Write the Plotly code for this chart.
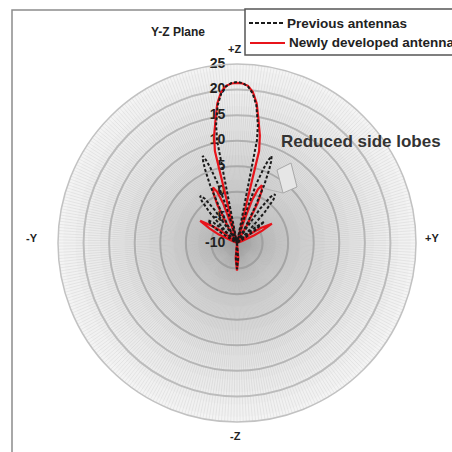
import numpy as np
import plotly.graph_objects as go

W = H = 452

# ---- data (angle in degrees, gain in dB) ----
new_theta = [-190, -185, -180, -175, -170,
             -69, -67, -65, -62, -59, -56, -53, -51, -49,
             -30.3, -29.3, -27.3, -25.3, -23.3, -21.3, -19.3, -17.3, -16.3,
             -15, -13.5, -12, -10, -8, -6, -4, -2, 0, 2, 4, 6, 8, 10, 12, 13.5, 15,
             16.3, 17.3, 19.3, 21.3, 23.3, 25.3, 27.3, 29.3, 30.3,
             51, 54, 56, 58, 61, 64, 66, 68, 71,
             170]
new_r = [-10, -7, -4.6, -7, -10,
         -10, -8.9, -6, -3.9, -1.6, -3.9, -6, -8.9, -10,
         -10, -6.7, -1.7, 0.8, 1.8, 0.8, -1.7, -6.7, -10,
         -10, 8.5, 11.5, 14.3, 17.6, 19.7, 20.8, 21.2, 21.3, 21.2, 20.8, 19.7, 17.6, 14.3, 11.5, 8.5, -10,
         -10, -6.2, -1.2, 1.3, 2.3, 1.3, -1.2, -6.2, -10,
         -10, -8.9, -6.3, -4.5, -2.2, -4.5, -6.3, -8.9, -10,
         -10]

old_theta = [-188, -184, -180, -176, -172,
             -60, -59, -57, -55, -52, -49, -47, -45, -44.5,
             -44.5, -44, -42, -40, -38, -36, -34, -32, -31.5,
             -28.5, -27.5, -26.5, -25, -23.5, -22.5, -21.5, -20.5, -19.5, -18, -16.5, -15.5, -14.5,
             -12.5, -11, -10, -8, -6, -4, -2, 0, 2, 4, 6, 8, 10, 11, 12.5,
             14.7, 15.7, 16.7, 18.2, 19.7, 20.7, 21.7, 22.7, 23.7, 25.2, 26.7, 27.7, 28.7,
             31.5, 32, 34, 36, 38, 40, 42, 44, 44.5,
             45, 47, 49, 52, 55, 57, 59, 60,
             172]
old_r = [-10, -7, -4.9, -7, -10,
         -10, -8.7, -5.8, -3.9, -2.8, -3.9, -5.8, -8.7, -10,
         -10, -7.3, -2.3, 0.7, 1.7, 0.7, -2.3, -7.3, -10,
         -10, -6, -2.5, 2.4, 5.6, 7.3, 8.3, 7.3, 5.6, 2.4, -2.5, -6, -10,
         -10, 10.5, 13.5, 17.2, 19.4, 20.7, 21.3, 21.5, 21.3, 20.7, 19.4, 17.2, 13.5, 10.5, -10,
         -10, -6, -2.5, 2.4, 5.6, 7.3, 8.3, 7.3, 5.6, 2.4, -2.5, -6, -10,
         -10, -6.9, -1.9, 1.1, 2.1, 1.1, -1.9, -6.9, -10,
         -10, -8.7, -5.8, -3.2, -5.8, -8, -9.5, -10,
         -10]

radial_ticks = [-10, -5, 0, 5, 10, 15, 20, 25]
radial_labels = ["-10", "-5", "0", "5", "10", "15", "20", "25"]
series_names = ["Previous antennas", "Newly developed antenna"]

# ---- helpers for pixel -> paper ----
def px(x):
    return x / W

def py(y):
    return 1 - y / H

cx, cy, R = 237, 243, 179

fig = go.Figure()

# background radial shading (decoration)
ring_t = np.linspace(0, 360, 181)
for rr in np.arange(24, -9, -2.4):
    fig.add_trace(go.Scatterpolar(
        r=[rr] * len(ring_t), theta=ring_t, mode="lines", fill="toself",
        fillcolor="rgba(0,0,0,0.0105)", line=dict(width=0),
        hoverinfo="skip", showlegend=False))

# radial tick labels (placed on the radial scale, left of the vertical axis)
fig.add_trace(go.Scatterpolar(
    r=radial_ticks, theta=[0] * len(radial_ticks), mode="text",
    text=[t + "\u00a0\u00a0\u00a0" for t in radial_labels],
    textposition="middle left",
    textfont=dict(family="Liberation Sans", size=14, color="#222", weight="bold"),
    hoverinfo="skip", showlegend=False, cliponaxis=False))

fig.add_trace(go.Scatterpolar(
    r=new_r, theta=new_theta, mode="lines", name=series_names[1],
    line=dict(color="#e8141b", width=2.2), showlegend=False))
fig.add_trace(go.Scatterpolar(
    r=old_r, theta=old_theta, mode="lines", name=series_names[0],
    line=dict(color="#1a1a1a", width=2, dash="3px,2px"), showlegend=False))

fig.update_layout(
    width=W, height=H,
    margin=dict(l=0, r=0, t=0, b=0),
    paper_bgcolor="white",
    showlegend=False,
    polar=dict(
        domain=dict(x=[px(cx - R), px(cx + R)], y=[py(cy + R), py(cy - R)]),
        bgcolor="#f4f4f4",
        radialaxis=dict(
            range=[-10, 25], tickvals=radial_ticks, angle=90,
            showticklabels=False,
            showline=False, ticks="",
            gridcolor="#c2c2c2", gridwidth=1.5,
        ),
        angularaxis=dict(
            rotation=90, direction="clockwise",
            tickmode="linear", tick0=0, dtick=1,
            showticklabels=False, ticks="",
            gridcolor="rgba(200,200,200,0.3)", gridwidth=0.5,
            showline=True, linecolor="#c2c2c2", linewidth=1.5,
        ),
    ),
)

shapes = []
# outer frame
shapes.append(dict(type="rect", xref="paper", yref="paper",
                   x0=px(12), x1=px(470), y0=py(470), y1=py(10),
                   line=dict(color="#8c8c8c", width=1.5)))
# legend box
shapes.append(dict(type="rect", xref="paper", yref="paper",
                   x0=px(245), x1=px(470), y0=py(55), y1=py(9),
                   fillcolor="white", line=dict(color="#555555", width=1.5)))
shapes.append(dict(type="line", xref="paper", yref="paper",
                   x0=px(249), x1=px(283), y0=py(23), y1=py(23),
                   line=dict(color="#1a1a1a", width=2, dash="4px,2px")))
shapes.append(dict(type="line", xref="paper", yref="paper",
                   x0=px(250), x1=px(285), y0=py(43), y1=py(43),
                   line=dict(color="#e8141b", width=2)))
# callout cylinder
path = "M {} {} L {} {} L {} {} L {} {} Z".format(
    px(277), py(170), px(291), py(163), px(297), py(187), px(283), py(193))
shapes.append(dict(type="path", xref="paper", yref="paper", path=path,
                   fillcolor="#e6e6e6", line=dict(color="#a8a8a8", width=1)))
shapes.append(dict(type="line", xref="paper", yref="paper",
                   x0=px(283), x1=px(262), y0=py(193), y1=py(188),
                   line=dict(color="#b0b0b0", width=1)))
fig.update_layout(shapes=shapes)

def ann(text, x, y, size, bold=True, color="#222", xanchor="center"):
    t = "<b>" + text + "</b>" if bold else text
    fig.add_annotation(text=t, x=px(x), y=py(y), xref="paper", yref="paper",
                       showarrow=False, xanchor=xanchor, yanchor="middle",
                       font=dict(family="Liberation Sans", size=size, color=color))

ann(series_names[0], 285, 23, 13.5, xanchor="left")
ann(series_names[1], 287, 43, 13.5, xanchor="left")
ann("Y-Z Plane", 178, 32, 12)
ann("+Z", 234, 49, 11)
ann("-Y", 32, 238, 11)
ann("+Y", 432, 238, 11)
ann("-Z", 235, 436, 11)
ann("Reduced side lobes", 361, 142, 17, color="#333")

fig.write_html("out.html", config={"displayModeBar": False},
               post_script="document.body.style.margin='0';document.body.style.overflow='hidden';")
